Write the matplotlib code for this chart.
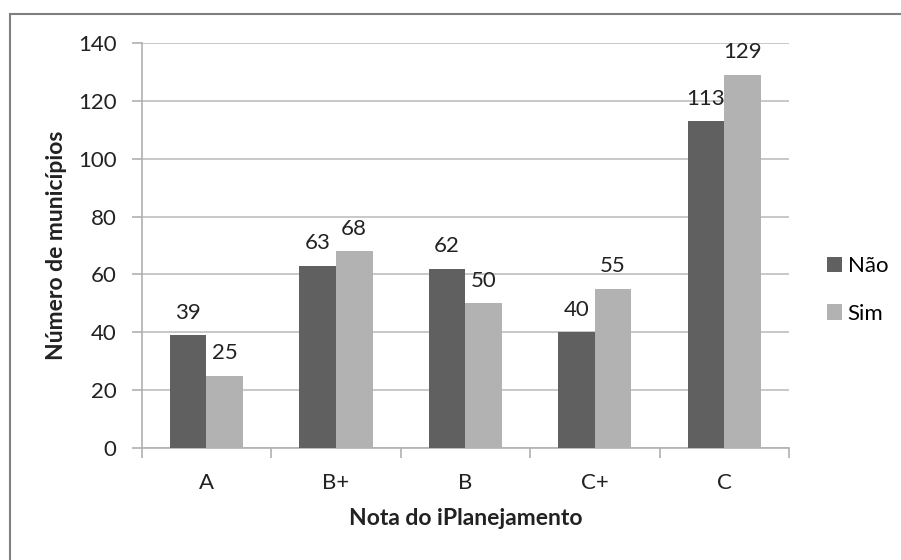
import matplotlib
matplotlib.use("Agg")
import matplotlib.pyplot as plt
import numpy as np
from matplotlib.patches import Rectangle

categories = ["A", "B+", "B", "C+", "C"]
nao = [39, 63, 62, 40, 113]
sim = [25, 68, 50, 55, 129]
series_names = ["Não", "Sim"]
yticks = [0, 20, 40, 60, 80, 100, 120, 140]

plt.rcParams['font.family'] = ['Lato', 'DejaVu Sans']

W, H = 901, 560
fig = plt.figure(figsize=(W / 100, H / 100), dpi=100)
ax = fig.add_axes([141.7 / W, 1 - 448 / H, (789 - 141.7) / W, (448 - 43) / H])

x = np.arange(len(categories))
bw = 0.283
dark = "#606060"
light = "#b2b2b2"
fs = 16
tc = "#222222"
b1 = ax.bar(x - bw / 2, nao, bw, color=dark, label=series_names[0], zorder=3)
b2 = ax.bar(x + bw / 2, sim, bw, color=light, label=series_names[1], zorder=3)

for bars, vals in ((b1, nao), (b2, sim)):
    for r, v in zip(bars, vals):
        ax.annotate(str(v), (r.get_x() + r.get_width() / 2, v), xytext=(0, 9),
                    textcoords="offset points", ha="center", va="bottom",
                    fontsize=fs, color=tc, zorder=4)

ax.set_xlim(-0.5, len(categories) - 0.5)
ax.set_ylim(0, 140)
ax.set_yticks(yticks)
ax.set_yticklabels([str(t) for t in yticks], fontsize=fs, color=tc)
ax.yaxis.grid(True, color="#bfbfbf", linewidth=1.2, zorder=0)
ax.set_axisbelow(True)

ax.set_xticks(x)
ax.set_xticklabels(categories, fontsize=fs, color=tc)
ax.set_xticks(np.arange(len(categories) + 1) - 0.5, minor=True)
ax.tick_params(axis="x", which="major", length=0, pad=18)
ax.tick_params(axis="x", which="minor", length=7, width=1.2, color="#b0b0b0")
ax.tick_params(axis="y", length=7, width=1.2, color="#b0b0b0", pad=11)

for s in ("top", "right"):
    ax.spines[s].set_visible(False)
for s in ("left", "bottom"):
    ax.spines[s].set_color("#b0b0b0")
    ax.spines[s].set_linewidth(1.2)

ax.set_xlabel("Nota do iPlanejamento", fontsize=16.5, fontweight="bold", color=tc)
ax.set_ylabel("Número de municípios", fontsize=16.5, fontweight="bold", color=tc)
ax.xaxis.set_label_coords(0.5, -(508 - 448) / 405)
ax.yaxis.set_label_coords((67 - 141.7) / 647.3, 0.5)

leg = fig.legend(handles=[b1, b2], labels=series_names, loc="center left",
                 bbox_to_anchor=(811 / W, 1 - 290 / H), frameon=False,
                 fontsize=fs, handlelength=0.7, handleheight=0.7,
                 handletextpad=0.25, labelspacing=1.25, borderpad=0.2)

# figure border (left and top visible)
fig.patches.append(Rectangle((10 / W, -0.1), 1.2, 1 - 14 / H + 0.1,
                             transform=fig.transFigure, fill=False,
                             edgecolor="#7f7f7f", linewidth=1.5))

fig.savefig("out.png", dpi=100)
